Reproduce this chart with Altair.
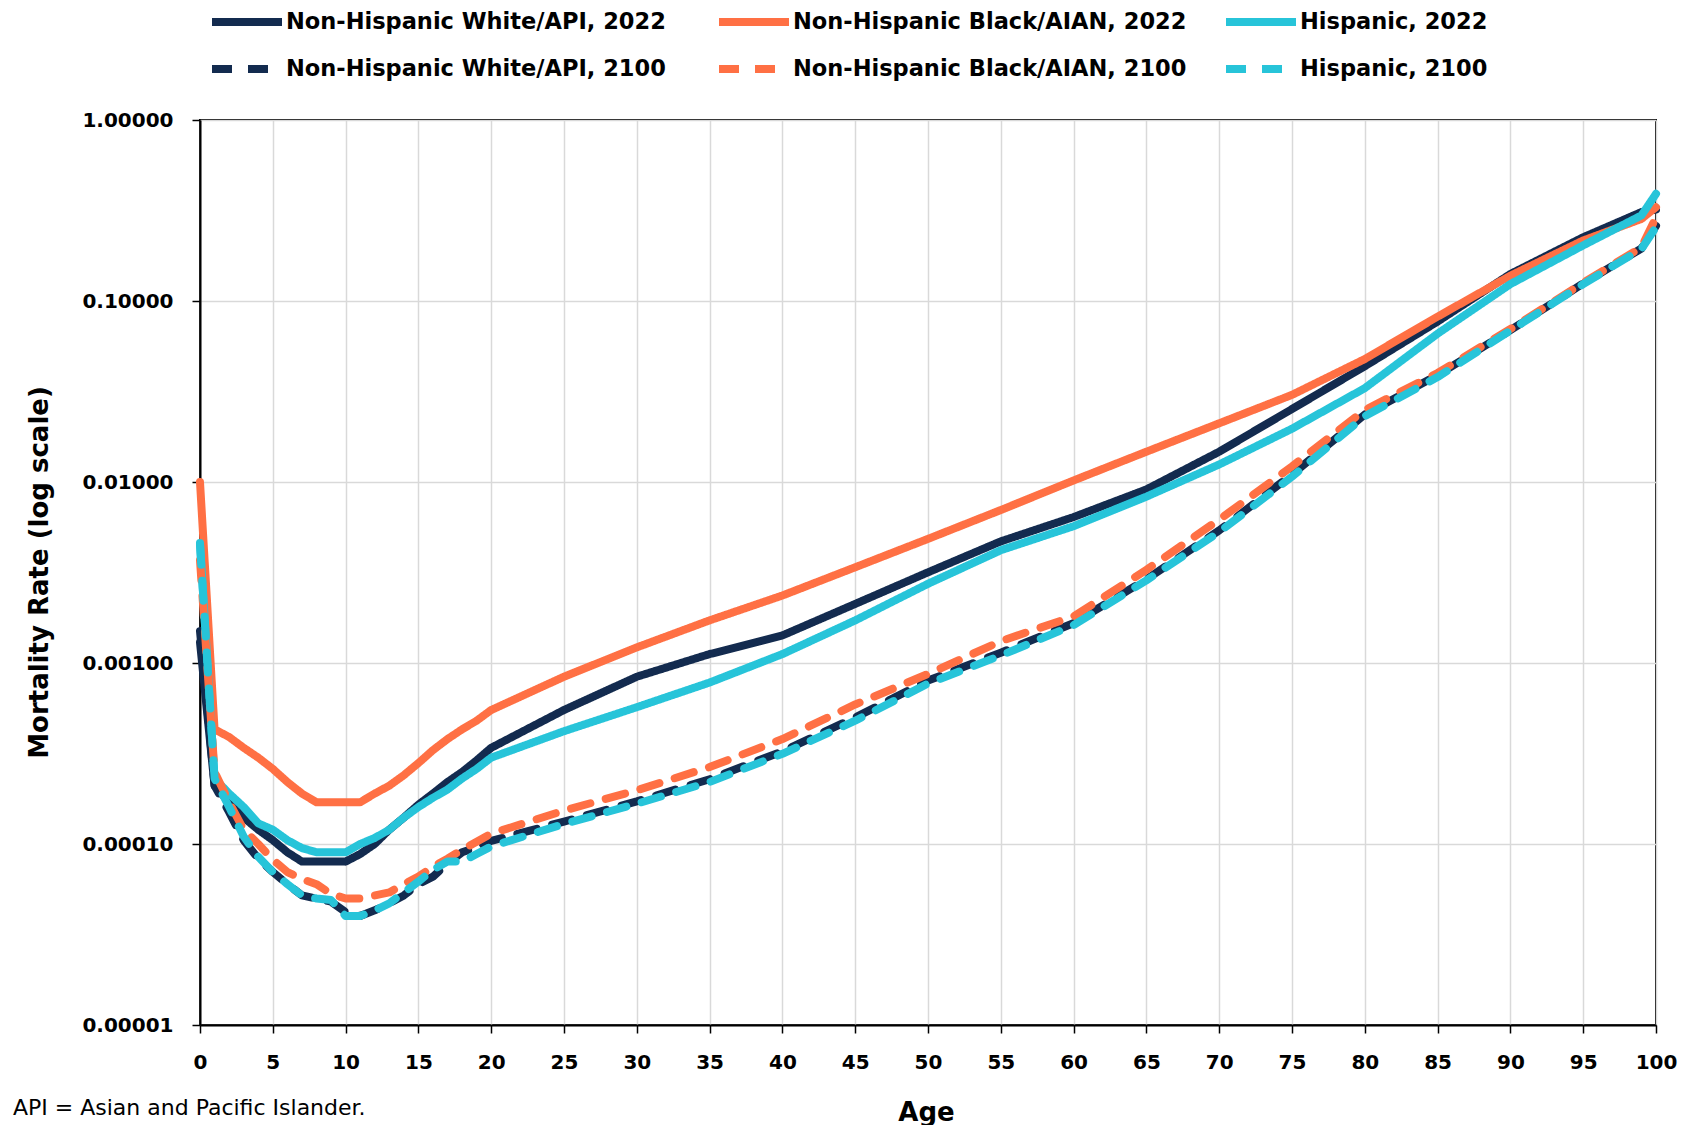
import altair as alt
import pandas as pd

ages = [0, 1, 2, 3, 4, 5, 6, 7, 8, 9, 10, 11, 12, 13, 14, 15, 16, 17, 18, 19, 20,
        25, 30, 35, 40, 45, 50, 55, 60, 65, 70, 75, 80, 85, 90, 95, 99, 100]

white_2022 = [0.0013, 0.00021, 0.00017, 0.00014, 0.00012, 0.000105, 0.00009, 0.00008, 0.00008, 0.00008,
              0.00008, 0.000088, 0.0001, 0.00012, 0.00014, 0.000165, 0.00019, 0.00022, 0.00025, 0.00029,
              0.00034, 0.00055, 0.00084, 0.00112, 0.00142, 0.00212, 0.00317, 0.0047, 0.0064, 0.0091,
              0.0147, 0.0253, 0.0436, 0.077, 0.141, 0.225, 0.31, 0.32]

black_2022 = [0.0100, 0.00043, 0.00039, 0.00034, 0.00030, 0.00026, 0.00022, 0.00019, 0.00017, 0.00017,
              0.00017, 0.00017, 0.00019, 0.00021, 0.00024, 0.00028, 0.00033, 0.00038, 0.00043, 0.00048,
              0.00055, 0.00084, 0.00122, 0.00172, 0.00236, 0.00338, 0.00485, 0.0070, 0.0102, 0.0147,
              0.0211, 0.0303, 0.0478, 0.082, 0.138, 0.216, 0.284, 0.33]

hisp_2022 = [0.0046, 0.00023, 0.00019, 0.00016, 0.00013, 0.00012, 0.000105, 0.000095, 0.00009, 0.00009,
             0.00009, 0.0001, 0.000108, 0.00012, 0.00014, 0.00016, 0.00018, 0.0002, 0.00023, 0.00026,
             0.0003, 0.00042, 0.00057, 0.00078, 0.00112, 0.00172, 0.00274, 0.0042, 0.0057, 0.0083,
             0.0125, 0.0197, 0.033, 0.066, 0.124, 0.203, 0.297, 0.391]

white_2100 = [0.0015, 0.00021, 0.00015, 0.000105, 0.000083, 0.00007, 0.00006, 0.000052, 0.00005, 0.000048,
              0.000042, 0.00004, 0.000043, 0.000047, 0.000052, 0.00006, 0.000066, 0.000078, 0.00009, 0.000096,
              0.000104, 0.000133, 0.000172, 0.000228, 0.000325, 0.0005, 0.0008, 0.00114, 0.00166, 0.0029,
              0.0054, 0.011, 0.0236, 0.039, 0.069, 0.125, 0.195, 0.26]

black_2100 = [0.0037, 0.00025, 0.00017, 0.00012, 0.0001, 0.000082, 0.00007, 0.000064, 0.00006, 0.000053,
              0.00005, 0.00005, 0.000052, 0.000054, 0.00006, 0.000066, 0.000075, 0.000083, 0.000093, 0.000103,
              0.000114, 0.000153, 0.000198, 0.000266, 0.00038, 0.00059, 0.00087, 0.00132, 0.00181, 0.00327,
              0.0062, 0.0122, 0.025, 0.040, 0.070, 0.126, 0.198, 0.29]

hisp_2100 = [0.0045, 0.00023, 0.00016, 0.00011, 0.000085, 0.00007, 0.00006, 0.000052, 0.00005, 0.000049,
             0.00004, 0.00004, 0.000043, 0.000047, 0.000054, 0.000062, 0.000072, 0.00008, 0.00008, 0.000088,
             0.000097, 0.000129, 0.000167, 0.00022, 0.000315, 0.00048, 0.00077, 0.0011, 0.00162, 0.00286,
             0.0053, 0.0107, 0.0231, 0.038, 0.0687, 0.124, 0.194, 0.256]

series_names = ["Non-Hispanic White/API, 2022", "Non-Hispanic Black/AIAN, 2022", "Hispanic, 2022",
                "Non-Hispanic White/API, 2100", "Non-Hispanic Black/AIAN, 2100", "Hispanic, 2100"]
series_values = [white_2022, black_2022, hisp_2022, white_2100, black_2100, hisp_2100]
series_colors = ["#132B4F", "#FF7044", "#27C4D9", "#132B4F", "#FF7044", "#27C4D9"]
series_dash = [[1, 0], [1, 0], [1, 0], [20, 16], [20, 16], [20, 16]]

x_ticks = list(range(0, 101, 5))
y_ticks = [0.00001, 0.0001, 0.001, 0.01, 0.1, 1.0]
footnote = ["API = Asian and Pacific Islander."]

rows = []
for name, vals in zip(series_names, series_values):
    for a, v in zip(ages, vals):
        rows.append({"Age": a, "Rate": v, "Series": name})
df = pd.DataFrame(rows)

legend_args = dict(
    title=None, orient="none", legendX=8, legendY=-113, columns=3, direction="horizontal",
    gridAlign="all", clipHeight=30,
    symbolType="stroke", symbolSize=4900, symbolStrokeWidth=8,
    labelFont="DejaVu Sans", labelFontSize=22.5, labelFontWeight="bold", labelColor="black",
    labelOffset=0, columnPadding=35, rowPadding=17, padding=0, labelLimit=700,
)

lines = alt.Chart(df).mark_line(strokeWidth=8, strokeCap="round", strokeJoin="round").encode(
    x=alt.X("Age:Q", scale=alt.Scale(domain=[0, 100], nice=False),
            axis=alt.Axis(values=x_ticks, title="Age", titleX=726, titleY=87,
                          titleBaseline="middle", labelPadding=19, labelFlush=False)),
    y=alt.Y("Rate:Q", scale=alt.Scale(type="log", domain=[0.00001, 1]),
            axis=alt.Axis(values=y_ticks, format=".5f", title="Mortality Rate (log scale)",
                          titleX=-161, titleY=452, titleBaseline="middle", titleAngle=270,
                          labelPadding=19)),
    color=alt.Color("Series:N", scale=alt.Scale(domain=series_names, range=series_colors),
                    legend=alt.Legend(**legend_args)),
    strokeDash=alt.StrokeDash("Series:N", scale=alt.Scale(domain=series_names, range=series_dash),
                              legend=alt.Legend(**legend_args)),
)

foot = alt.Chart(pd.DataFrame({"t": footnote})).mark_text(
    align="left", baseline="middle", font="DejaVu Sans", fontSize=22, color="black"
).encode(x=alt.value(-187), y=alt.value(988), text="t:N")

chart = alt.layer(lines, foot).properties(
    width=1456, height=905,
    autosize=alt.AutoSizeParams(type="none"),
    padding={"left": 192, "top": 112, "right": 30, "bottom": 100},
).configure_view(
    stroke="black", strokeWidth=2
).configure_axis(
    domainColor="black", domainWidth=2, tickColor="black", tickSize=8, tickWidth=1.5,
    labelFont="DejaVu Sans", labelFontSize=20, labelFontWeight="bold", labelColor="black",
    gridColor="#d9d9d9", gridWidth=1.5,
    titleFont="DejaVu Sans", titleFontSize=26, titleFontWeight="bold", titleColor="black",
)

chart.save("out.html", embed_options={"renderer": "svg", "actions": False})
